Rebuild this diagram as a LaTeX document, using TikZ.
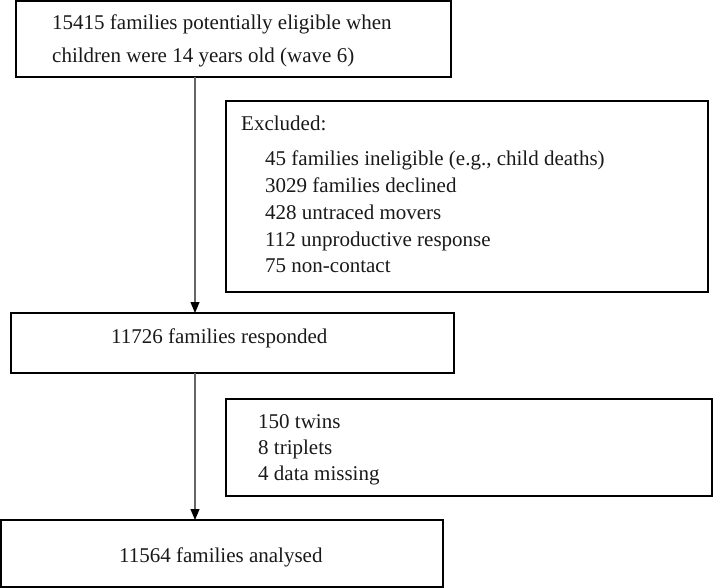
\documentclass[tikz,border=0pt]{standalone}
\usepackage{fontspec}
\setmainfont{Liberation Serif}
\usetikzlibrary{arrows.meta}
\begin{document}
\begin{tikzpicture}[x=1pt,y=-1pt,
  box/.style={draw=black, line width=2.2pt, anchor=north west, inner sep=0pt, outer sep=0pt},
  txt/.style={anchor=base west, inner sep=0pt, font=\fontsize{21}{25}\selectfont, text=black!90},
  arr/.style={draw=black!60, line width=1.2pt, -{Triangle[length=11pt,width=9pt,color=black]}}]
\useasboundingbox (0,0) rectangle (714,588);
% boxes
\node[box, minimum width=435pt, minimum height=76pt] (b1) at (16,1) {};
\node[box, minimum width=482pt, minimum height=191pt] (b2) at (226,101) {};
\node[box, minimum width=443pt, minimum height=60pt] (b3) at (11,313) {};
\node[box, minimum width=486pt, minimum height=97pt] (b4) at (226,399) {};
\node[box, minimum width=442pt, minimum height=67pt] (b5) at (1,520) {};
% texts
\node[txt] (t1a) at (52,30) {15415 families potentially eligible when};
\node[txt] (t1b) at (52,63) {children were 14 years old (wave 6)};
\node[txt] (t2a) at (241,131) {Excluded:};
\node[txt] (t2b) at (265,166) {45 families ineligible (e.g., child deaths)};
\node[txt] (t2c) at (265,193) {3029 families declined};
\node[txt] (t2d) at (265,219) {428 untraced movers};
\node[txt] (t2e) at (265,246) {112 unproductive response};
\node[txt] (t2f) at (265,272) {75 non-contact};
\node[txt] (t3) at (111,343) {11726 families responded};
\node[txt] (t4a) at (258,428) {150 twins};
\node[txt] (t4b) at (258,454) {8 triplets};
\node[txt] (t4c) at (258,480) {4 data missing};
\node[txt] (t5) at (119,562) {11564 families analysed};
% connectors
\coordinate (ax) at (195,0);
\draw[arr] (b1.south -| ax) -- (b3.north -| ax);
\draw[arr] (b3.south -| ax) -- (b5.north -| ax);
\end{tikzpicture}
\end{document}
